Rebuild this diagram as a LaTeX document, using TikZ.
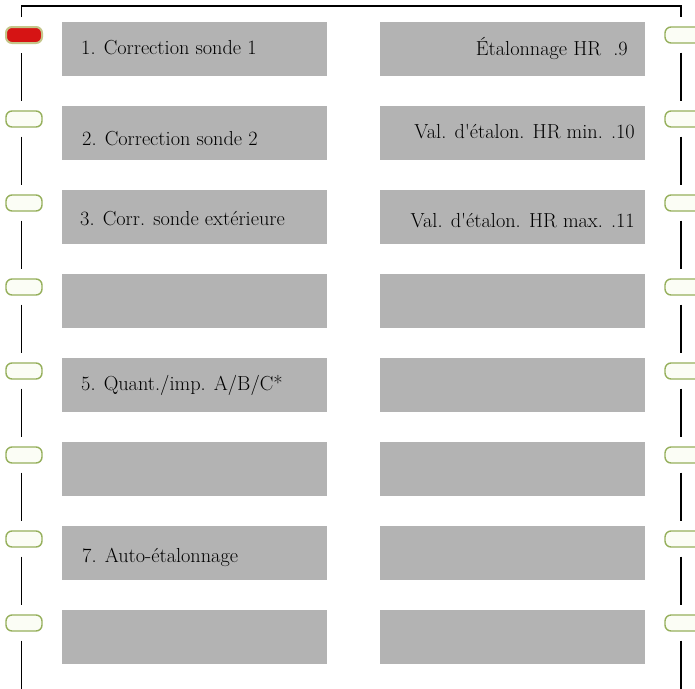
\documentclass[tikz,border=0pt]{standalone}
\usepackage{fontspec}
\definecolor{panelgray}{RGB}{179,179,179}
\definecolor{keygreen}{RGB}{150,176,92}
\definecolor{keyfill}{RGB}{251,253,245}
\definecolor{keyred}{RGB}{214,20,20}
\definecolor{keyrim}{RGB}{196,198,138}
\begin{document}
\begin{tikzpicture}[x=1pt,y=-1pt,
  panel/.style={fill=panelgray, draw=none, minimum width=265pt, minimum height=54pt, anchor=north west, inner sep=0pt},
  key/.style={draw=keygreen, line width=1.4pt, fill=keyfill, rounded corners=6pt, minimum width=36pt, minimum height=16pt, inner sep=0pt},
  keyon/.style={key, draw=keyrim, line width=2pt, fill=keyred},
  wire/.style={draw=black, line width=1.3pt},
  lbl/.style={font=\fontsize{20.3}{24}\selectfont, inner sep=0pt, text=black},
]
\useasboundingbox (0,0) rectangle (695,688);
\fill[white] (0,0) rectangle (695,688);

% menu panels, two columns of eight
\foreach \i in {0,...,7} {
  \node[panel] (pl\i) at (62,22+84*\i) {};
  \node[panel] (pr\i) at (380,22+84*\i) {};
}

% soft keys beside each row
\node[keyon] (kl0) at (24,35) {};
\foreach \i in {1,...,7} {
  \node[key] (kl\i) at (24,35+84*\i) {};
}
\foreach \i in {0,...,7} {
  \node[key] (kr\i) at (683,35+84*\i) {};
}

% frame lines linking the keys
\coordinate (tl) at (21.5,6);
\coordinate (tr) at (681,6);
\coordinate (bl) at (21.5,690);
\coordinate (br) at (681,690);
\draw[wire, shorten <=9pt, shorten >=9pt]
  ([xshift=-2.5pt]kl0.north) -- (tl) -- (tr) -- ([xshift=-2pt]kr0.north);
\foreach \i [evaluate=\i as \j using int(\i+1)] in {0,...,6} {
  \draw[wire, shorten <=9pt, shorten >=9pt]
    ([xshift=-2.5pt]kl\i.south) -- ([xshift=-2.5pt]kl\j.north);
  \draw[wire, shorten <=9pt, shorten >=9pt]
    ([xshift=-2pt]kr\i.south) -- ([xshift=-2pt]kr\j.north);
}
\draw[wire, shorten <=9pt] ([xshift=-2.5pt]kl7.south) -- (bl);
\draw[wire, shorten <=9pt] ([xshift=-2pt]kr7.south) -- (br);

% menu entries
\node[lbl, anchor=base west] (m1) at (81,54) {1. Correction sonde 1};
\node[lbl, anchor=base west] (m2) at (82,145) {2. Correction sonde 2};
\node[lbl, anchor=base west] (m3) at (80,225) {3. Corr. sonde extérieure};
\node[lbl, anchor=base west] (m5) at (81,390) {5. Quant./imp. A/B/C*};
\node[lbl, anchor=base west] (m7) at (82,562) {7. Auto-étalonnage};
\node[lbl, anchor=base east] (m9) at (628,55) {Étalonnage HR\hspace{0.6em}.9};
\node[lbl, anchor=base east] (m10) at (635,138.5) {Val. d\textquotesingle étalon. HR min. .10};
\node[lbl, anchor=base east] (m11) at (635,227) {Val. d\textquotesingle étalon. HR max. .11};
\end{tikzpicture}
\end{document}
